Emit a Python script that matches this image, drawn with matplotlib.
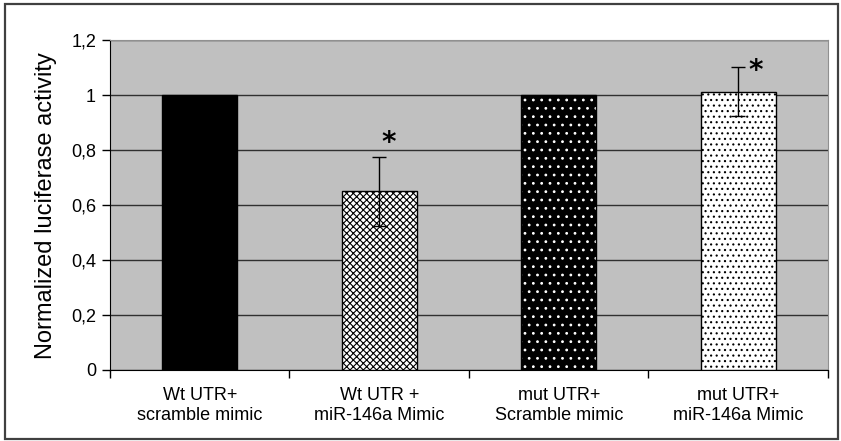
import matplotlib
matplotlib.use("Agg")
import matplotlib.pyplot as plt
from matplotlib.patches import Rectangle

plt.rcParams['hatch.linewidth'] = 0.8

categories = ["Wt UTR+\nscramble mimic", "Wt UTR +\nmiR-146a Mimic",
              "mut UTR+\nScramble mimic", "mut UTR+\nmiR-146a Mimic"]
values = [1.0, 0.65, 1.0, 1.013]
errors = [0.0, 0.125, 0.0, 0.09]
significant = [False, True, False, True]
yticks = [0, 0.2, 0.4, 0.6, 0.8, 1.0, 1.2]
ytick_labels = ["0", "0,2", "0,4", "0,6", "0,8", "1", "1,2"]

sans = ["Liberation Sans", "DejaVu Sans"]

fig = plt.figure(figsize=(8.41, 4.41), dpi=100)
fig.patch.set_facecolor("white")
fig.add_artist(Rectangle((0.006, 0.004), 0.991, 0.988, transform=fig.transFigure,
                         fill=False, edgecolor="#404040", linewidth=1.6))

ax = fig.add_axes([0.1308, 0.161, 0.8537, 0.748])
ax.set_facecolor("#C0C0C0")

x = list(range(len(categories)))
faces = ["black", "white", "black", "white"]
hatches = [None, "xxxxx", "..", "..."]
hcolors = ["black", "black", "white", "black"]
for i in x:
    ax.bar(i, values[i], width=0.42, color=faces[i], hatch=hatches[i],
           edgecolor=hcolors[i], linewidth=0, zorder=3)
    ax.bar(i, values[i], width=0.42, fill=False, edgecolor="black",
           linewidth=1.0, zorder=4)
    if errors[i] > 0:
        ax.errorbar(i, values[i], yerr=errors[i], fmt="none", ecolor="black",
                    elinewidth=1.0, capsize=5, capthick=1.0, zorder=5)

# significance markers, placed beside/above the upper error cap
star_dx = {1: 0.05, 3: 0.10}
star_dy = {1: 0.052, 3: -0.014}
for i in x:
    if significant[i]:
        ax.text(i + star_dx[i], values[i] + errors[i] + star_dy[i], "*",
                ha="center", va="center", fontsize=20, fontweight="bold",
                family=["DejaVu Sans"], zorder=6)

ax.set_xlim(-0.5, len(categories) - 0.5)
ax.set_ylim(0, 1.2)
ax.set_yticks(yticks)
ax.set_yticklabels(ytick_labels, family=sans, fontsize=13)
ax.yaxis.grid(True, color="#303030", linewidth=1.0, zorder=1)
ax.set_axisbelow(True)

ax.set_xticks([i + 0.5 for i in x[:-1]] + [-0.5, len(categories) - 0.5])
ax.set_xticklabels([])
ax.set_xticks(x, minor=True)
ax.set_xticklabels(categories, minor=True, family=sans, fontsize=13,
                   linespacing=1.25)
ax.tick_params(axis="x", which="minor", length=0, pad=12)
ax.tick_params(axis="x", which="major", length=6, direction="out", width=1)
ax.tick_params(axis="y", length=6, width=1, direction="out", pad=4)

ax.spines["left"].set_color("black")
ax.spines["bottom"].set_color("black")
ax.spines["top"].set_color("#909090")
ax.spines["right"].set_color("#909090")

ax.set_ylabel("Normalized luciferase activity", family=sans,
              fontsize=17, labelpad=10)

fig.savefig("out.png", dpi=100)
